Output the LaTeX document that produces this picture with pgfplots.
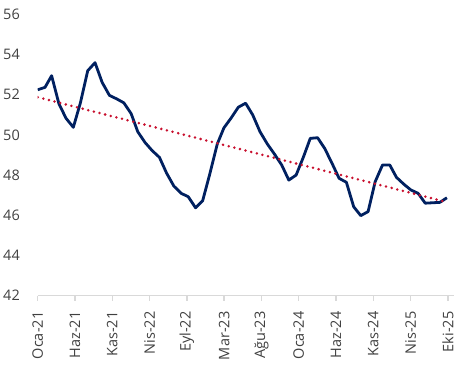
\documentclass[border=0pt]{standalone}
\usepackage{fontspec}
\setmainfont{Open Sans}
\usepackage{pgfplots}
\pgfplotsset{compat=1.18}
\definecolor{navy}{RGB}{0,32,96}
\definecolor{trendred}{RGB}{200,16,46}
\definecolor{axgray}{RGB}{217,217,217}
\definecolor{lblgray}{RGB}{64,64,64}
\begin{document}
\begin{tikzpicture}
\useasboundingbox (-37.7bp,-77.5bp) rectangle (436.3bp,295.5bp);
\begin{axis}[
  at={(0,0)}, anchor=south west,
  scale only axis, width=416.3bp, height=281bp,
  xmin=0, xmax=1764, ymin=42, ymax=56,
  axis x line*=bottom, axis y line*=left,
  x axis line style={axgray, line width=1.6bp},
  y axis line style={draw=none},
  ytick style={draw=none},
  xtick style={axgray, line width=1.3bp},
  tick align=outside, major tick length=5bp,
  xtick={0,158,316,474,632,790,948,1106,1264,1422,1580,1738},
  xticklabels={Oca-21,Haz-21,Kas-21,Nis-22,Eyl-22,Mar-23,Ağu-23,Oca-24,Haz-24,Kas-24,Nis-25,Eki-25},
  ytick={42,44,...,56},
  /pgf/number format/assume math mode=true,
  tick label style={font=\fontsize{14.5bp}{17bp}\selectfont, text=lblgray},
  xticklabel style={rotate=90, anchor=east, inner sep=0pt},
  xticklabel shift=11bp,
  yticklabel style={anchor=east, inner sep=0pt},
  yticklabel shift=12.7bp,
]
\addplot[navy, line width=2.8bp, line join=round, mark=none] table {
x y
0 52.25
31 52.37
59 52.95
90 51.55
120 50.83
151 50.38
181 51.60
212 53.20
243 53.60
273 52.62
304 51.97
334 51.80
365 51.60
396 51.06
424 50.16
455 49.62
485 49.22
516 48.88
546 48.10
577 47.45
608 47.09
638 46.92
669 46.37
699 46.72
730 48.09
761 49.55
789 50.35
820 50.85
850 51.38
881 51.58
911 51.00
942 50.16
973 49.55
1003 49.05
1034 48.50
1064 47.75
1095 48.00
1126 48.90
1155 49.83
1186 49.86
1216 49.33
1247 48.59
1277 47.84
1308 47.64
1339 46.42
1369 45.98
1400 46.18
1430 47.67
1461 48.50
1492 48.50
1520 47.89
1551 47.55
1581 47.26
1612 47.09
1642 46.60
1673 46.62
1704 46.64
1734 46.87
};
\addplot[trendred, line width=2.8bp, line cap=round, dash pattern=on 0bp off 5.8bp, mark=none] coordinates {(0,51.88) (1734,46.65)};
\end{axis}
\end{tikzpicture}
\end{document}
